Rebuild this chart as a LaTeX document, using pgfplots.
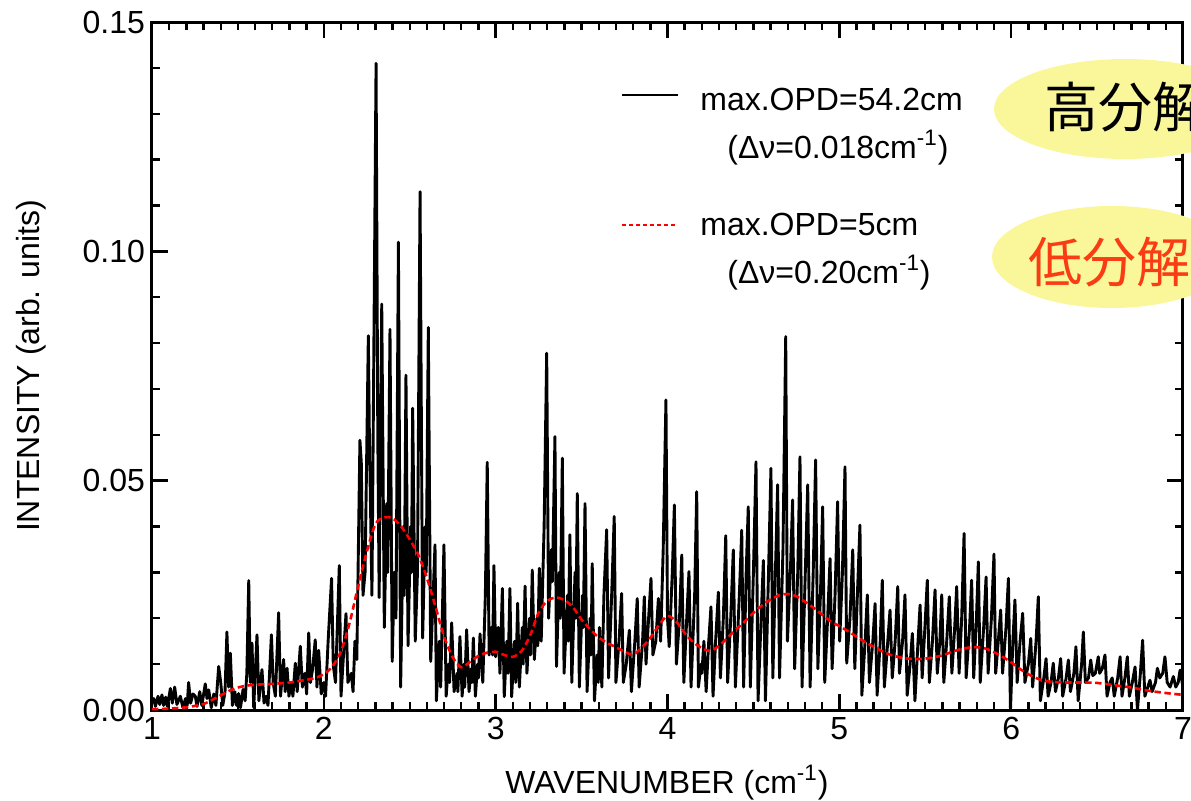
\documentclass[border=0pt]{standalone}
\usepackage{pgfplots}
\pgfplotsset{compat=1.18}
\usepackage{fontspec}
\setmainfont{Liberation Sans}
\newfontfamily\cjk{Noto Sans CJK JP}
\definecolor{ellyellow}{RGB}{250,247,155}
\definecolor{lowred}{RGB}{250,60,20}

\pgfplotstableread{
x y
1.000 0.0015
1.010 0.0025
1.020 0.0008
1.035 0.0030
1.045 0.0012
1.058 0.0033
1.068 0.0010
1.080 0.0028
1.090 0.0008
1.107 0.0047
1.118 0.0015
1.132 0.0050
1.145 0.0012
1.165 0.0030
1.180 0.0005
1.195 0.0025
1.205 0.0010
1.213 0.0060
1.225 0.0015
1.238 0.0035
1.252 0.0030
1.262 0.0008
1.278 0.0040
1.290 0.0010
1.310 0.0057
1.320 0.0025
1.330 0.0044
1.345 0.0005
1.360 0.0035
1.372 0.0010
1.388 0.0095
1.400 0.0060
1.412 0.0010
1.425 0.0040
1.436 0.0170
1.446 0.0050
1.456 0.0124
1.468 0.0010
1.482 0.0040
1.492 0.0010
1.504 0.0036
1.515 0.0005
1.530 0.0045
1.542 0.0020
1.552 0.0080
1.563 0.0282
1.572 0.0060
1.582 0.0146
1.592 0.0005
1.611 0.0164
1.622 0.0020
1.640 0.0088
1.652 0.0015
1.665 0.0030
1.675 0.0010
1.695 0.0164
1.705 0.0060
1.718 0.0030
1.737 0.0212
1.748 0.0030
1.766 0.0110
1.775 0.0040
1.786 0.0091
1.797 0.0030
1.810 0.0060
1.820 0.0030
1.834 0.0102
1.845 0.0040
1.863 0.0139
1.875 0.0050
1.890 0.0080
1.900 0.0035
1.912 0.0168
1.922 0.0060
1.935 0.0090
1.950 0.0153
1.960 0.0050
1.970 0.0130
1.985 0.0035
2.000 0.0060
2.010 0.0030
2.025 0.0150
2.045 0.0287
2.055 0.0097
2.068 0.0060
2.090 0.0315
2.100 0.0030
2.129 0.0210
2.140 0.0060
2.160 0.0080
2.170 0.0040
2.181 0.0150
2.192 0.0110
2.210 0.0588
2.218 0.0540
2.228 0.0250
2.240 0.0300
2.259 0.0816
2.265 0.0600
2.280 0.0250
2.304 0.1410
2.314 0.0600
2.322 0.0245
2.337 0.0885
2.352 0.0180
2.366 0.0450
2.372 0.0300
2.385 0.0830
2.398 0.0106
2.410 0.0300
2.420 0.0200
2.434 0.1020
2.447 0.0050
2.462 0.0400
2.468 0.0250
2.478 0.0730
2.490 0.0140
2.505 0.0400
2.510 0.0300
2.517 0.0658
2.532 0.0150
2.545 0.0300
2.560 0.1130
2.575 0.0157
2.590 0.0400
2.596 0.0300
2.608 0.0834
2.622 0.0106
2.647 0.0360
2.655 0.0020
2.672 0.0150
2.680 0.0050
2.699 0.0360
2.712 0.0030
2.725 0.0100
2.732 0.0060
2.744 0.0190
2.758 0.0040
2.775 0.0080
2.780 0.0040
2.792 0.0160
2.805 0.0030
2.815 0.0100
2.820 0.0050
2.831 0.0175
2.845 0.0040
2.858 0.0090
2.862 0.0060
2.870 0.0157
2.882 0.0030
2.895 0.0100
2.900 0.0070
2.909 0.0166
2.925 0.0060
2.940 0.0250
2.951 0.0540
2.962 0.0120
2.975 0.0180
2.982 0.0120
2.990 0.0315
3.000 0.0116
3.015 0.0180
3.025 0.0080
3.039 0.0265
3.050 0.0029
3.065 0.0150
3.072 0.0080
3.083 0.0265
3.093 0.0029
3.110 0.0150
3.117 0.0060
3.128 0.0233
3.138 0.0050
3.155 0.0180
3.160 0.0100
3.171 0.0270
3.182 0.0080
3.198 0.0200
3.203 0.0120
3.213 0.0305
3.225 0.0110
3.240 0.0200
3.245 0.0140
3.254 0.0309
3.265 0.0150
3.282 0.0400
3.297 0.0778
3.308 0.0200
3.325 0.0350
3.330 0.0280
3.345 0.0596
3.354 0.0095
3.370 0.0300
3.376 0.0200
3.388 0.0549
3.398 0.0080
3.418 0.0250
3.422 0.0150
3.432 0.0382
3.443 0.0060
3.462 0.0300
3.467 0.0200
3.475 0.0472
3.487 0.0050
3.505 0.0250
3.510 0.0180
3.520 0.0450
3.532 0.0040
3.550 0.0200
3.555 0.0120
3.562 0.0319
3.575 0.0020
3.590 0.0120
3.597 0.0060
3.604 0.0180
3.618 0.0050
3.630 0.0250
3.646 0.0393
3.657 0.0070
3.675 0.0250
3.690 0.0422
3.700 0.0060
3.718 0.0150
3.733 0.0254
3.743 0.0060
3.760 0.0100
3.778 0.0174
3.790 0.0040
3.810 0.0150
3.824 0.0243
3.835 0.0050
3.855 0.0150
3.865 0.0247
3.875 0.0100
3.890 0.0200
3.904 0.0287
3.915 0.0120
3.932 0.0150
3.947 0.0243
3.960 0.0150
3.975 0.0350
3.991 0.0676
4.000 0.0200
4.010 0.0138
4.028 0.0300
4.040 0.0447
4.052 0.0100
4.070 0.0200
4.083 0.0338
4.095 0.0060
4.112 0.0200
4.125 0.0302
4.137 0.0050
4.158 0.0250
4.170 0.0476
4.180 0.0050
4.195 0.0100
4.200 0.0080
4.212 0.0150
4.225 0.0040
4.240 0.0150
4.253 0.0225
4.265 0.0030
4.280 0.0150
4.296 0.0257
4.308 0.0070
4.325 0.0200
4.339 0.0380
4.350 0.0060
4.368 0.0200
4.383 0.0349
4.395 0.0050
4.418 0.0250
4.432 0.0392
4.443 0.0050
4.458 0.0300
4.470 0.0443
4.482 0.0050
4.500 0.0300
4.515 0.0541
4.527 0.0020
4.545 0.0200
4.558 0.0326
4.570 0.0020
4.588 0.0300
4.602 0.0527
4.613 0.0070
4.628 0.0300
4.641 0.0491
4.652 0.0070
4.672 0.0350
4.688 0.0814
4.698 0.0150
4.715 0.0300
4.728 0.0458
4.740 0.0090
4.758 0.0300
4.771 0.0552
4.783 0.0050
4.802 0.0300
4.816 0.0491
4.830 0.0050
4.848 0.0300
4.862 0.0545
4.875 0.0090
4.890 0.0250
4.903 0.0443
4.915 0.0060
4.932 0.0200
4.946 0.0330
4.958 0.0090
4.975 0.0250
4.990 0.0454
5.002 0.0150
5.018 0.0300
5.033 0.0530
5.043 0.0102
5.062 0.0200
5.078 0.0349
5.090 0.0090
5.105 0.0250
5.120 0.0403
5.131 0.0032
5.150 0.0150
5.163 0.0251
5.175 0.0060
5.195 0.0150
5.208 0.0232
5.220 0.0032
5.238 0.0150
5.250 0.0283
5.262 0.0050
5.282 0.0150
5.295 0.0218
5.308 0.0070
5.325 0.0150
5.340 0.0269
5.350 0.0080
5.368 0.0150
5.382 0.0251
5.395 0.0032
5.412 0.0100
5.425 0.0167
5.440 0.0020
5.458 0.0150
5.470 0.0229
5.482 0.0070
5.498 0.0180
5.512 0.0283
5.524 0.0060
5.542 0.0150
5.557 0.0262
5.570 0.0080
5.585 0.0150
5.596 0.0251
5.608 0.0060
5.625 0.0150
5.640 0.0247
5.655 0.0080
5.670 0.0170
5.683 0.0269
5.697 0.0080
5.712 0.0200
5.726 0.0385
5.738 0.0070
5.758 0.0180
5.770 0.0283
5.782 0.0070
5.798 0.0200
5.809 0.0323
5.820 0.0060
5.840 0.0180
5.854 0.0290
5.866 0.0080
5.885 0.0200
5.900 0.0340
5.910 0.0080
5.925 0.0150
5.939 0.0218
5.950 0.0080
5.970 0.0180
5.984 0.0287
5.996 0.0000
6.010 0.0150
6.022 0.0240
6.035 0.0060
6.052 0.0150
6.067 0.0211
6.080 0.0060
6.100 0.0100
6.114 0.0156
6.125 0.0050
6.145 0.0150
6.158 0.0247
6.170 0.0020
6.190 0.0070
6.203 0.0112
6.215 0.0030
6.232 0.0060
6.245 0.0102
6.258 0.0040
6.275 0.0070
6.288 0.0112
6.300 0.0030
6.320 0.0070
6.333 0.0109
6.345 0.0040
6.365 0.0080
6.377 0.0138
6.390 0.0020
6.410 0.0100
6.420 0.0170
6.432 0.0060
6.450 0.0070
6.463 0.0109
6.475 0.0075
6.490 0.0080
6.507 0.0116
6.515 0.0080
6.530 0.0090
6.546 0.0120
6.558 0.0030
6.575 0.0060
6.588 0.0070
6.600 0.0030
6.620 0.0070
6.634 0.0116
6.645 0.0030
6.662 0.0070
6.676 0.0116
6.688 0.0030
6.705 0.0060
6.721 0.0094
6.735 0.0000
6.752 0.0080
6.765 0.0152
6.778 0.0030
6.795 0.0050
6.808 0.0065
6.820 0.0040
6.840 0.0060
6.851 0.0091
6.865 0.0070
6.882 0.0080
6.895 0.0116
6.908 0.0060
6.925 0.0050
6.944 0.0073
6.958 0.0050
6.972 0.0060
6.983 0.0087
7.000 0.0050
}\highres

\pgfplotstableread{
x y
1.00 0.0002
1.10 0.0003
1.20 0.0006
1.25 0.0009
1.30 0.0013
1.35 0.0022
1.40 0.0032
1.45 0.0042
1.50 0.0049
1.55 0.0053
1.60 0.0055
1.70 0.0057
1.80 0.0060
1.90 0.0066
1.95 0.0070
2.00 0.0078
2.05 0.0095
2.10 0.0128
2.15 0.0190
2.20 0.0270
2.25 0.0345
2.30 0.0405
2.35 0.0420
2.40 0.0418
2.45 0.0400
2.50 0.0372
2.55 0.0338
2.60 0.0288
2.65 0.0225
2.70 0.0160
2.75 0.0115
2.80 0.0093
2.85 0.0105
2.90 0.0118
2.95 0.0125
3.00 0.0127
3.05 0.0120
3.10 0.0116
3.15 0.0128
3.20 0.0162
3.25 0.0212
3.30 0.0238
3.35 0.0245
3.40 0.0240
3.45 0.0224
3.50 0.0197
3.55 0.0176
3.60 0.0158
3.65 0.0146
3.70 0.0137
3.75 0.0127
3.80 0.0121
3.85 0.0136
3.90 0.0157
3.95 0.0185
4.00 0.0205
4.05 0.0193
4.10 0.0168
4.15 0.0148
4.20 0.0135
4.25 0.0129
4.30 0.0140
4.35 0.0158
4.40 0.0176
4.45 0.0193
4.50 0.0212
4.55 0.0228
4.60 0.0241
4.65 0.0250
4.70 0.0253
4.75 0.0248
4.80 0.0236
4.85 0.0223
4.90 0.0208
4.95 0.0193
5.00 0.0183
5.05 0.0172
5.10 0.0160
5.15 0.0148
5.20 0.0138
5.25 0.0128
5.30 0.0120
5.35 0.0115
5.40 0.0112
5.45 0.0111
5.50 0.0112
5.55 0.0115
5.60 0.0119
5.65 0.0126
5.70 0.0132
5.75 0.0136
5.80 0.0137
5.85 0.0134
5.90 0.0126
5.95 0.0116
6.00 0.0104
6.05 0.0090
6.10 0.0078
6.15 0.0069
6.20 0.0063
6.30 0.0060
6.40 0.0060
6.50 0.0059
6.60 0.0054
6.70 0.0049
6.80 0.0042
6.90 0.0037
7.00 0.0033
}\lowres

\begin{document}
\begin{tikzpicture}
\path[use as bounding box] (-76pt,-45pt) rectangle (519.5pt,355pt);
\clip (-76pt,-45pt) rectangle (519.5pt,355pt);
\begin{axis}[
  at={(0pt,0pt)}, anchor=south west,
  scale only axis, width=515.5pt, height=344pt,
  xmin=1, xmax=7, ymin=0, ymax=0.15,
  xtick={1,2,3,4,5,6,7},
  ytick={0,0.05,0.10,0.15},
  minor x tick num=9, minor y tick num=4,
  scaled y ticks=false,
  tick align=inside,
  major tick length=8pt, minor tick length=4pt,
  every tick/.style={black, line width=1.2pt},
  axis line style={line width=1.5pt},
  ticklabel style={font=\fontsize{16}{19}\selectfont},
  yticklabel style={/pgf/number format/.cd, fixed, fixed zerofill, precision=2, assume math mode=true},
  xticklabel style={/pgf/number format/assume math mode=true},
  clip=true,
]
\addplot[black, line width=1.45pt, line join=round] table[x=x,y=y] {\highres};
\addplot[red, line width=1.3pt, dash pattern=on 3.2pt off 1.8pt, smooth] table[x=x,y=y] {\lowres};
\end{axis}
% custom legend
\draw[black, line width=1.2pt] (235pt,307.5pt) -- (263pt,307.5pt);
\node[anchor=base west, inner sep=0pt, font=\fontsize{16}{19}\selectfont] at (274pt,300pt) {max.OPD=54.2cm};
\node[anchor=base west, inner sep=0pt, font=\fontsize{16}{19}\selectfont] at (287.5pt,276pt) {(Δν=0.018cm\textsuperscript{-1})};
\draw[red, line width=1.2pt, dash pattern=on 2pt off 1.5pt] (235pt,242.5pt) -- (263pt,242.5pt);
\node[anchor=base west, inner sep=0pt, font=\fontsize{16}{19}\selectfont] at (274pt,237.5pt) {max.OPD=5cm};
\node[anchor=base west, inner sep=0pt, font=\fontsize{16}{19}\selectfont] at (287.5pt,213.5pt) {(Δν=0.20cm\textsuperscript{-1})};
% axis labels
\node[rotate=90, anchor=base, inner sep=0pt, font=\fontsize{16}{19}\selectfont] at (-56pt,172pt) {INTENSITY (arb. units)};
\node[anchor=base, inner sep=0pt, font=\fontsize{16}{19}\selectfont] at (257.5pt,-41.5pt) {WAVENUMBER (cm\textsuperscript{-1})};
% yellow ellipses
\fill[ellyellow] (486.5pt,300.5pt) ellipse [x radius=65.5pt, y radius=25pt];
\fill[ellyellow] (480pt,226.5pt) ellipse [x radius=60pt, y radius=25.5pt];
\node[anchor=west, inner sep=0pt, font=\cjk\fontsize{27}{30}\selectfont] at (446pt,301.5pt) {高分解};
\node[anchor=west, inner sep=0pt, font=\cjk\fontsize{27}{30}\selectfont, text=lowred] at (438pt,224pt) {低分解};
\end{tikzpicture}
\end{document}
